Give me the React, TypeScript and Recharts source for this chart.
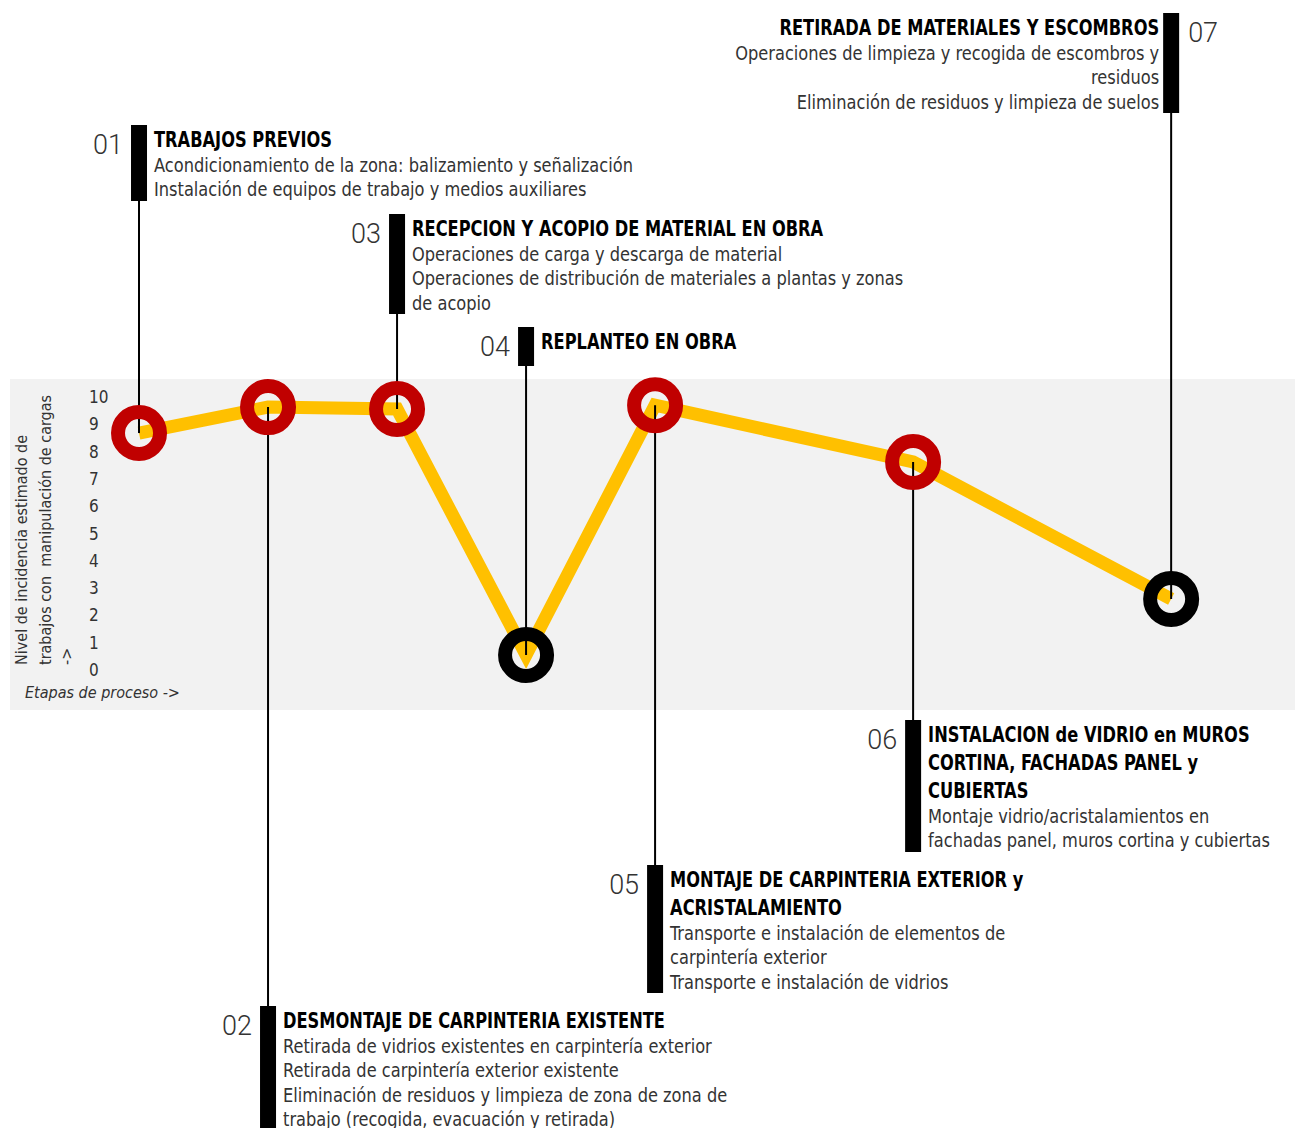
import React from 'react';
import { ComposedChart, Line, XAxis, YAxis, CartesianGrid, Customized } from 'recharts';

// stage position along the process axis and estimated incidence level (0-10)
const stageSteps = [0, 1, 2, 3, 4, 6, 8];
const incidence = [8.68, 9.63, 9.56, 0.55, 9.7, 7.62, 2.6];
const stageCodes = ['01', '02', '03', '04', '05', '06', '07'];
const stageTitles = [
    ['TRABAJOS PREVIOS'],
    ['DESMONTAJE DE CARPINTERIA EXISTENTE'],
    ['RECEPCION Y ACOPIO DE MATERIAL EN OBRA'],
    ['REPLANTEO EN OBRA'],
    ['MONTAJE DE CARPINTERIA EXTERIOR y', 'ACRISTALAMIENTO'],
    ['INSTALACION de VIDRIO en MUROS', 'CORTINA, FACHADAS PANEL y', 'CUBIERTAS'],
    ['RETIRADA DE MATERIALES Y ESCOMBROS'],
];
const stageTasks = [
    ['Acondicionamiento de la zona: balizamiento y señalización', 'Instalación de equipos de trabajo y medios auxiliares'],
    [
        'Retirada de vidrios existentes en carpintería exterior',
        'Retirada de carpintería exterior existente',
        'Eliminación de residuos y limpieza de zona de zona de',
        'trabajo (recogida, evacuación y retirada)',
    ],
    ['Operaciones de carga y descarga de material', 'Operaciones de distribución de materiales a plantas y zonas', 'de acopio'],
    [],
    ['Transporte e instalación de elementos de', 'carpintería exterior', 'Transporte e instalación de vidrios'],
    ['Montaje vidrio/acristalamientos en', 'fachadas panel, muros cortina y cubiertas'],
    ['Operaciones de limpieza y recogida de escombros y', 'residuos', 'Eliminación de residuos y limpieza de suelos'],
];
const levelTicks = [0, 1, 2, 3, 4, 5, 6, 7, 8, 9, 10];

// callout box placement (page pixels), text side
const calloutLayout = [
    { top: 125, bottom: 201, side: 'right' },
    { top: 1006, bottom: 1128, side: 'right' },
    { top: 214, bottom: 314, side: 'right' },
    { top: 327, bottom: 366, side: 'right' },
    { top: 865, bottom: 993, side: 'right' },
    { top: 720, bottom: 852, side: 'right' },
    { top: 13, bottom: 113, side: 'left' },
];

const FONT = '"Liberation Sans Narrow", "Arial Narrow", "DejaVu Sans Condensed", "Liberation Sans", sans-serif';

const chartData = stageSteps.map((step, i) => ({
    step,
    value: incidence[i],
    code: stageCodes[i],
    title: stageTitles[i],
    tasks: stageTasks[i],
}));

// horizontally squeezed text, the original uses a condensed face
const NarrowText = ({ x, y, sx, anchor, children, ...rest }: any) => (
    <text transform={`translate(${x},${y}) scale(${sx},1)`} textAnchor={anchor} fontFamily={FONT} {...rest}>
        {children}
    </text>
);

const renderCallout = (props: any) => {
    const { cx, cy, index, payload } = props;
    const lay = calloutLayout[index];
    const below = lay.top > cy;
    const right = lay.side === 'right';
    const textX = right ? cx + 15 : cx - 12;
    const anchor = right ? 'start' : 'end';
    const titleY = lay.top + 22;
    const taskY = titleY + (payload.title.length - 1) * 28 + 24.5;
    return (
        <g key={`callout-${index}`}>
            <line x1={cx} y1={cy} x2={cx} y2={below ? lay.top : lay.bottom} stroke="#000" strokeWidth={2} />
            <rect x={cx - 8} y={lay.top} width={16} height={lay.bottom - lay.top} fill="#000" />
            <text
                x={right ? cx - 16 : cx + 17}
                y={lay.top + 29}
                textAnchor={right ? 'end' : 'start'}
                fontFamily="Roboto, sans-serif"
                fontWeight={300}
                fontSize={27}
                fill="#333"
            >
                {payload.code}
            </text>
            {payload.title.map((t: string, k: number) => (
                <NarrowText key={`t${k}`} x={textX} y={titleY + k * 28} sx={0.86} anchor={anchor} fontWeight="bold" fontSize={21} fill="#000">
                    {t}
                </NarrowText>
            ))}
            {payload.tasks.map((t: string, k: number) => (
                <NarrowText key={`d${k}`} x={textX} y={taskY + k * 24.5} sx={0.95} anchor={anchor} fontSize={19} fill="#333">
                    {t}
                </NarrowText>
            ))}
        </g>
    );
};

const renderRing = (props: any) => {
    const { cx, cy, index, payload } = props;
    return (
        <circle
            key={`ring-${index}`}
            cx={cx}
            cy={cy}
            r={21}
            fill="none"
            stroke={payload.value < 5 ? '#000' : '#C00000'}
            strokeWidth={14}
        />
    );
};

const renderLevelTick = (props: any) => {
    const { y, payload } = props;
    return (
        <text x={89} y={y} dy={6} textAnchor="start" fontFamily={FONT} fontSize={17} fill="#333">
            {payload.value}
        </text>
    );
};

const AxisTitles = () => (
    <g fontFamily={FONT} fill="#333">
        <text transform="translate(27,665) rotate(-90)" fontSize={16}>Nivel de incidencia estimado de</text>
        <text transform="translate(51,665) rotate(-90)" fontSize={16} style={{ whiteSpace: 'pre' }}>trabajos con  manipulación de cargas</text>
        <text transform="translate(72,665) rotate(-90)" fontSize={16}>-&gt;</text>
        <text x={25} y={698} fontSize={16} fontStyle="italic">Etapas de proceso -&gt;</text>
    </g>
);

const App: React.FC = () => {
    return (
        <div style={{ position: 'absolute', left: 0, top: 0, background: '#fff' }}>
            <ComposedChart
                width={1295}
                height={1128}
                data={chartData}
                margin={{ top: 379, right: 0, bottom: 418, left: 10 }}
                style={{ background: '#fff' }}
            >
                <CartesianGrid fill="#F2F2F2" stroke="none" />
                <XAxis dataKey="step" type="number" domain={[-1, 8.96]} hide />
                <YAxis
                    type="number"
                    domain={[-1.465, 10.66]}
                    ticks={levelTicks}
                    mirror
                    width={100}
                    axisLine={false}
                    tickLine={false}
                    tick={renderLevelTick}
                />
                <Customized component={AxisTitles} />
                <Line dataKey="value" stroke="none" dot={renderCallout} activeDot={false} isAnimationActive={false} />
                <Line
                    type="linear"
                    dataKey="value"
                    stroke="#FFC000"
                    strokeWidth={13}
                    dot={renderRing}
                    activeDot={false}
                    isAnimationActive={false}
                />
            </ComposedChart>
        </div>
    );
};

export default App;
